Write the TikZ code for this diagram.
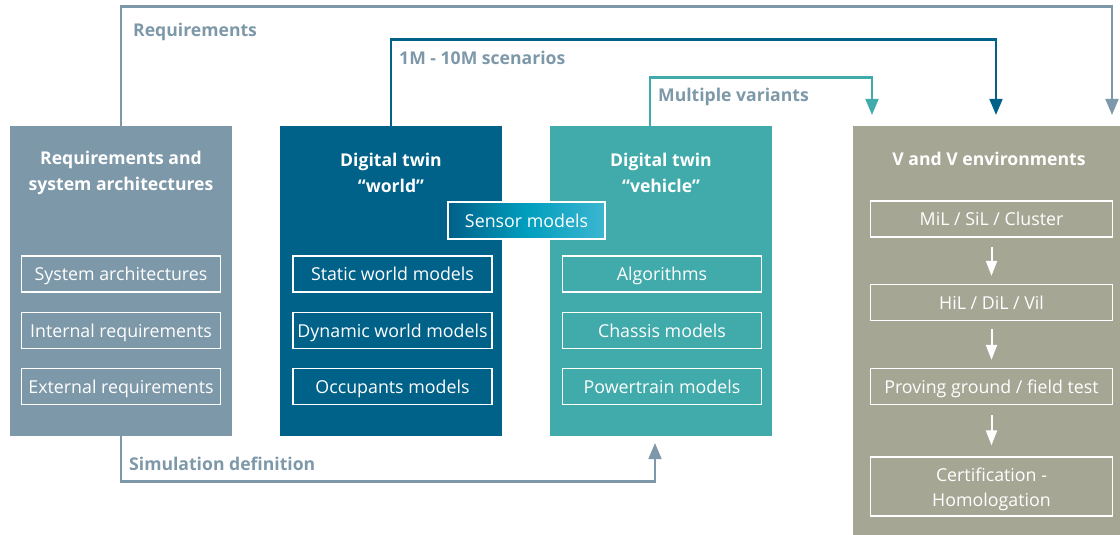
\documentclass[tikz,border=0pt]{standalone}
\usepackage{fontspec}
\setmainfont{Open Sans}
\usetikzlibrary{arrows.meta,calc}
\definecolor{cReq}{HTML}{7D98A9}
\definecolor{cWorld}{HTML}{006289}
\definecolor{cVeh}{HTML}{41AAAA}
\definecolor{cVV}{HTML}{A6A695}
\definecolor{cSensL}{HTML}{006088}
\definecolor{cSensM}{HTML}{009EBE}
\definecolor{cSensR}{HTML}{3DB6D0}
\begin{document}
\begin{tikzpicture}[x=1pt,y=-1pt,
  bigbox/.style={fill=#1, draw=none, inner sep=0pt, minimum width=222pt, minimum height=310pt},
  subbox/.style={draw=white, line width=1.3pt, inner sep=0pt, minimum width=199pt, minimum height=36pt, text=white, text height=14pt, text depth=0.5pt, font=\fontsize{17.8}{20}\selectfont},
  vvbox/.style={subbox, minimum width=242pt},
  ttl/.style={text=white, align=center, inner sep=0pt, font=\bfseries\fontsize{17.6}{26}\selectfont},
  ctext/.style={text=white, align=center, inner sep=0pt, font=\fontsize{17.8}{25}\selectfont},
  lab/.style={text=cReq, anchor=base west, inner sep=0pt, font=\bfseries\fontsize{17.6}{20}\selectfont},
  flow/.style={draw=#1, line width=2.6pt, -{Triangle[width=12.7pt,length=16pt]}},
  warrow/.style={draw=white, line width=2pt, -{Triangle[width=11pt,length=15pt]}}
]
\useasboundingbox (0,0) rectangle (1120,535);

% main boxes
\node[bigbox=cReq] (r) at (121,281) {};
\node[bigbox=cWorld] (w) at (391,281) {};
\node[bigbox=cVeh] (v) at (661,281) {};
\node[bigbox=cVV, minimum width=267pt, minimum height=409pt] (vv) at (986.5,330.5) {};

% titles
\node[ttl] (rt) at (121,173) {Requirements and\\system architectures};
\node[ttl] (wt) at (391,173) {Digital twin\\“world”};
\node[ttl] (vt) at (661,173) {Digital twin\\“vehicle”};
\node[ttl] (vvt) at (989,159) {V and V environments};

% sub boxes
\node[subbox] (r1) at (121,274) {System architectures};
\node[subbox] (r2) at (121,330.5) {Internal requirements};
\node[subbox] (r3) at (121,386.7) {External requirements};
\node[subbox] (w1) at (392.5,274) {Static world models};
\node[subbox] (w2) at (392.5,330.5) {Dynamic world models};
\node[subbox] (w3) at (392.5,386.7) {Occupants models};
\node[subbox] (v1) at (662,274) {Algorithms};
\node[subbox] (v2) at (662,330.5) {Chassis models};
\node[subbox] (v3) at (662,386.7) {Powertrain models};

% sensor models
\node[draw=white, line width=1.3pt, inner sep=0pt, minimum width=157pt, minimum height=37pt,
  left color=cSensL, right color=cSensR, middle color=cSensM, text=white,
  text height=14pt, text depth=0.5pt,
  font=\fontsize{17.8}{20}\selectfont] (s) at (526.5,220.5) {Sensor models};

% V and V sub boxes
\node[vvbox] (m1) at (991.5,219) {MiL / SiL / Cluster};
\node[vvbox] (m2) at (991.5,302.5) {HiL / DiL / Vil};
\node[vvbox] (m3) at (991.5,386.5) {Proving ground / field test};
\node[vvbox, minimum height=59pt] (m4) at (991.5,486.5) {};
\node[ctext] (m4t) at (991.5,489) {Certification -\\Homologation};

\draw[warrow, shorten <=9pt, shorten >=8pt] (m1.south) -- (m1.south |- m2.north);
\draw[warrow, shorten <=8pt, shorten >=8pt] (m2.south) -- (m2.south |- m3.north);
\draw[warrow, shorten <=10pt, shorten >=11pt] (m3.south) -- (m3.south |- m4.north);

% connectors
\coordinate (tipR) at (1112,115);
\coordinate (tipW) at (996,115);
\coordinate (tipV) at (872,115);
\coordinate (tipS) at (655,443);

\draw[flow=cReq] (r.north) -- ++(0,-119) -| (tipR);
\draw[flow=cWorld] (w.north) -- ++(0,-86) -| (tipW);
\draw[flow=cVeh] ($(v.north)+(-11,0)$) -- ++(0,-48) -| (tipV);
\draw[flow=cReq] (r.south) -- ++(0,45) -| (tipS);

% labels
\node[lab] (l1) at (133,37) {Requirements};
\node[lab] (l2) at (399,65) {1M - 10M scenarios};
\node[lab] (l3) at (658,102) {Multiple variants};
\node[lab] (l4) at (129,470) {Simulation definition};
\end{tikzpicture}
\end{document}
